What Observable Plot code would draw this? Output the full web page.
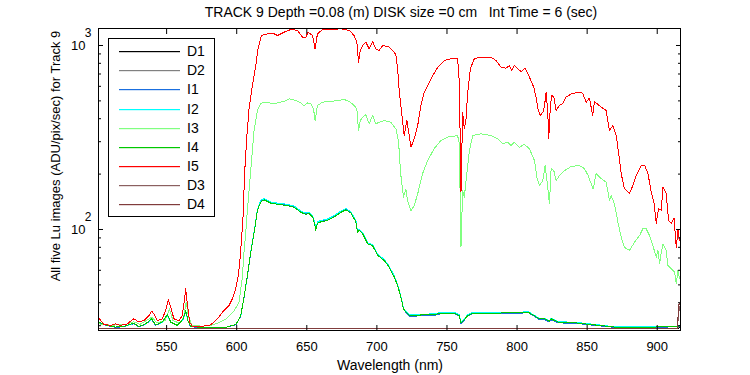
<!DOCTYPE html>
<html><head><meta charset="utf-8">
<script src="https://cdn.jsdelivr.net/npm/d3@7"></script>
<script src="https://cdn.jsdelivr.net/npm/@observablehq/plot@0.6"></script>
<style>
body{margin:0;background:#fff;}
#chart{width:750px;height:375px;}
svg{font-family:Arial,"Liberation Sans",sans-serif;}
</style></head><body><div id="chart"></div>
<script>
const titleText = "TRACK 9 Depth =0.08 (m) DISK size =0 cm   Int Time = 6 (sec)";
const xLabel = "Wavelength (nm)";
const yLabel = "All five Lu images (ADU/pix/sec) for Track 9";
const seriesNames = ["D1","D2","I1","I2","I3","I4","I5","D3","D4"];
const seriesColors = ["#000000","#808080","#1a6fdf","#00ffff","#80ff80","#00c800","#ff0000","#8b6060","#803c3c"];
const xTicks = [550,600,650,700,750,800,850,900];
const yMajor = [100,1000];
const yExp = ["2","3"];
const yMinor = [30,40,50,60,70,80,90,200,300,400,500,600,700,800,900];

const wlDark = [501,530,560,590,620,650,680,710,740,770,800,830,860,890,910,914.5,915.2,916];
const D1 = [28.9,28.8,28.9,28.8,28.9,28.8,28.9,28.8,28.9,28.8,28.9,28.8,28.9,28.8,28.9,28.9,29.2,29.5];
const D2 = [29.0,28.9,29.0,28.9,29.0,28.9,29.0,28.9,29.0,28.9,29.0,28.9,29.0,28.9,29.0,29.0,29.5,30];
const D3 = [29.0,29.0,28.9,29.0,29.0,28.9,29.0,29.0,28.9,29.0,29.0,28.9,29.0,29.0,28.9,29.0,35,38];
const D4 = [29.1,29.0,29.1,29.0,29.1,29.0,29.1,29.0,29.1,29.0,29.1,29.0,29.1,29.0,29.1,29.1,39,39.5];

const wlG = [501.6,507.6,513.6,519.5,526.6,530.2,535,539.3,542.1,546.9,550.5,552.9,557.6,561.9,563.6,565.2,567.1,579,590.9,599.5,602.9,605.2,607.6,610,612.4,614.8,617.1,619.5,624.3,629.1,636.2,641,645.7,649.3,651.6,654.1,655.7,656.4,657.6,660,664.8,669.5,674.3,677.9,681.4,685,686.2,687.4,689.8,693.4,696.9,700.5,705.2,708.8,712.4,714.8,717.1,719,720.7,723.1,731.4,740.9,745.7,755.2,758.8,760,761.9,764.8,768.4,779,793.4,802.9,807.6,810,815.9,819.5,823.1,824.3,829.1,843.4,855.2,869.5,881.4,898.1,914.8,916];
const I4 = [31.4,30.1,29.5,29.7,31,29.7,30.7,32.7,30.3,31.4,34.5,31.4,30.1,32.7,36.3,32,29.7,29.2,29.2,30.5,34,43,56,75,96,127,141,145,139,137,135,132,124,121,122,117,107,98.8,108,110,112,117,124,128,123,110,96.7,98.8,94.8,83.6,81.9,72.3,67.9,62.4,55.1,49.6,42.8,37,35.6,34.1,34.3,34.5,35.1,35.1,34.1,31,32,34.1,35.1,35.1,35.2,35.2,35.6,34.8,32.7,32.7,31.8,32.7,31.4,31,30.3,29.5,29.5,29.5,29.7,30];
const I1 = [31.2,30,29.4,29.6,30.8,29.6,30.5,32.4,30.2,31.2,34.2,31.2,30,32.4,35.9,31.8,29.6,29.2,29.2,30.4,33.8,42.6,55.5,74.5,96.5,128,143,146,140,138,136,133,125,122,123,118,108,99.5,109,111,113,118,125,129,124,111,97.5,99.5,95.5,84.2,82.5,72.8,68.4,62.8,55.5,50,43.1,37.2,35.4,33.8,33.9,34.1,34.8,34.9,33.8,30.8,31.8,33.9,34.9,34.9,35.1,35.1,35.4,34.6,32.4,32.3,31.5,32.3,31.1,30.8,30.1,29.4,29.4,29.4,29.6,29.9];
const I2 = [31.3,30.1,29.5,29.7,30.9,29.7,30.6,32.5,30.3,31.3,34.3,31.3,30.1,32.5,36,31.9,29.7,29.2,29.2,30.5,33.9,42.8,55.8,75.2,97,129,144,147,141,139,137,134,126,123,124,119,109,100,110,112,114,119,126,130,125,112,98,100,96,84.6,83,73.2,68.8,63.2,55.9,50.3,43.4,37.4,35.8,34.4,34.6,34.8,35.4,35.4,34.4,31.2,32.2,34.4,35.4,35.4,35.5,35.5,35.9,35,32.9,32.8,32,32.9,31.6,31.2,30.5,29.6,29.6,29.6,29.8,30.1];

const I3 = [[501.6,30.7],[510,30.2],[520,30.4],[526.6,31.5],[531,30.5],[539.5,33.4],[543,31],[549,32],[552,37],[554.5,32],[559,31],[562,33],[564,40.3],[565.5,34],[568,30.2],[575,29.8],[583,30.3],[588.6,31.5],[592,32.5],[598,36],[601.6,40],[603,48],[604,55],[605.2,75],[606.4,95],[607.4,122],[608.8,163],[610,209],[611.2,269],[612.4,345],[614.8,443],[617.1,486],[621.9,492],[625.5,482],[629.1,488],[633.8,497],[637.4,513],[642.1,502],[645.7,488],[648.1,468],[650.5,488],[652.9,482],[654.8,453],[655.9,391],[657.6,472],[661.2,492],[667.1,497],[671.9,502],[676.6,509],[680.2,497],[683.8,472],[685.7,453],[686.9,345],[688.1,391],[689.8,408],[692.1,420],[694.5,375],[696.9,417],[699.3,375],[701.6,383],[705.2,391],[710,383],[713.6,352],[715.5,298],[716.9,203],[719,150],[720.7,166],[721.9,144],[724.3,126],[726.6,135],[729.1,156],[732.6,201],[736.2,237],[740.9,275],[745.7,305],[750.5,318],[757.6,324],[758.8,292],[760,80],[761.2,163],[762.4,150],[763.6,185],[766,269],[768.4,324],[774.3,331],[781.4,324],[786.2,311],[789.8,292],[793.4,298],[795.7,286],[798.1,298],[801.6,280],[805.2,290],[808.8,275],[812.4,237],[814.3,189],[816,173],[818.4,185],[820,223],[821.9,170],[823.1,138],[824.3,214],[826.2,209],[827.9,185],[830.2,196],[833.8,209],[838.6,220],[844.5,223],[848.1,214],[850.5,198],[854.3,166],[856.4,201],[860,189],[863.6,181],[865.9,144],[867.1,153],[869.5,138],[871.9,110],[874.3,90.8],[876.6,80],[880.2,76.9],[883.8,85.3],[887.4,92.7],[889.8,101],[892.1,101],[894.5,92.7],[896.9,81.9],[899.3,70.7],[900.5,76.9],[901.7,65.2],[902.9,75.3],[904.1,83.6],[906.4,76.9],[907.6,63.7],[910,61.1],[912.4,58.6],[913.6,50.7],[914.8,59.8],[916,54]];

const I5 = [[501.6,33.1],[505.2,30.5],[510,30.1],[513.6,30.7],[517.1,30.1],[521.9,30.7],[526.6,32.7],[530.2,31.4],[533.8,32],[537.4,34.1],[539.3,36],[540.9,34.8],[543.4,32],[546.9,32.7],[549.3,36.3],[551.2,41.5],[552.9,37.9],[555.2,32.7],[558.8,32],[561.2,34.1],[562.9,42.8],[563.6,47.6],[564.8,39.4],[566.4,31.4],[568.4,29.7],[574.3,29.7],[581.4,30.3],[586.2,32.7],[590.9,36.3],[594.5,38.6],[596.9,42],[599.3,47.6],[600.9,55.1],[602.1,65.2],[603.4,87.1],[604.8,127],[605.5,196],[606.4,250],[607.1,311],[608.8,453],[611.2,606],[613.6,778],[615.2,960],[617.6,1133],[621.9,1158],[626.6,1158],[629.1,1133],[633.8,1181],[638.6,1222],[643.4,1209],[646.9,1109],[649.3,1109],[650.9,1181],[654.1,1133],[655.9,960],[657.6,1158],[661.2,1222],[667.1,1222],[674.3,1232],[680.2,1209],[683.8,1133],[685.7,1042],[686.9,811],[688.1,940],[689.8,1000],[692.1,1042],[694.5,960],[696.9,1051],[699.3,960],[701.6,940],[704.1,1000],[708.8,980],[710,960],[712.4,921],[713.6,883],[714.8,750],[716,560],[717.1,472],[718.4,383],[719.5,324],[721.4,391],[723.1,324],[724.3,280],[726.6,311],[729.1,367],[731.4,472],[733.8,557],[738.6,659],[743.4,762],[748.1,828],[752.9,847],[757.6,847],[758.8,631],[760,160],[761.2,434],[762.4,352],[763.6,400],[764.8,557],[766.7,747],[769.5,847],[774.3,865],[781.4,865],[785,828],[788.6,762],[792.1,753],[794.5,778],[796.2,731],[798.1,778],[800.5,747],[802.9,722],[805.7,753],[808.8,673],[811.9,593],[813.6,524],[814.8,453],[816.6,417],[818.4,434],[819.5,463],[820.7,557],[821.9,434],[822.6,311],[823.8,472],[824.8,535],[826.2,524],[827.9,443],[830.2,472],[832.6,482],[835,524],[838.6,546],[843.4,557],[845.7,557],[846.9,546],[849.3,492],[851.6,517],[854,417],[855.2,495],[860,463],[863.6,443],[865.9,345],[868.4,367],[870.7,324],[871.9,280],[874.3,201],[876.6,167],[880.2,157],[882.6,173],[885,196],[888.6,223],[891,223],[893.4,201],[895.7,160],[897.6,141],[899.3,108],[900.9,130],[902.9,127],[904.1,170],[906.4,157],[908.1,112],[910,108],[912,115],[913.6,80],[914.8,99],[916,87]];

const rows = [];
function addParallel(name, wl, vals){ const n=Math.min(wl.length, vals.length); for(let i=0;i<n;i++) rows.push({series:name, wl:wl[i], v:vals[i]}); }
function addPairs(name, pairs){ pairs.forEach(p=>rows.push({series:name, wl:p[0], v:p[1]})); }
addParallel("D1", wlDark, D1);
addParallel("D2", wlDark, D2);
addParallel("I1", wlG, I1);
addParallel("I2", wlG, I2);
addPairs("I3", I3);
addParallel("I4", wlG, I4);
addPairs("I5", I5);
addParallel("D3", wlDark, D3);
addParallel("D4", wlDark, D4);

const plot = Plot.plot({
  width: 750, height: 375,
  marginLeft: 98, marginRight: 70, marginTop: 28, marginBottom: 45,
  style: {fontFamily: "Arial, 'Liberation Sans', sans-serif", fontSize: "13px", color: "black", background: "white"},
  x: {domain: [501.4, 916.6]},
  y: {type: "log", domain: [28.25, 1237]},
  color: {domain: seriesNames, range: seriesColors.slice()},
  marks: [
    Plot.line(rows, {x: "wl", y: "v", z: "series", stroke: "series", strokeWidth: 1, clip: true, shapeRendering: "crispEdges"}),
    Plot.frame({stroke: "black", shapeRendering: "crispEdges"}),
    Plot.axisX(xTicks, {anchor: "bottom", tickSize: -5, fill: "none", stroke: "black"}),
    Plot.axisX(xTicks, {anchor: "top", tickSize: -5, fill: "none", stroke: "black"}),
    Plot.axisX(xTicks, {anchor: "bottom", tickSize: 0, tickPadding: 11, label: null, fill: "black", fontSize: 13, tickFormat: d => String(d)}),
    Plot.axisY(yMajor, {anchor: "left", tickSize: -5, fill: "none", stroke: "black"}),
    Plot.axisY(yMajor, {anchor: "right", tickSize: -5, fill: "none", stroke: "black"}),
    Plot.axisY(yMinor, {anchor: "left", tickSize: -3, fill: "none", stroke: "black"}),
    Plot.axisY(yMinor, {anchor: "right", tickSize: -3, fill: "none", stroke: "black"}),
    Plot.text(yMajor, {y: d => d, text: () => "10", frameAnchor: "left", textAnchor: "end", dx: -13, fontSize: 13, fill: "black"}),
    Plot.text(yMajor, {y: d => d, text: (d, i) => yExp[i], frameAnchor: "left", textAnchor: "end", dx: -7, dy: -12, fontSize: 12, fill: "black"})
  ]
});
document.getElementById("chart").appendChild(plot);

const svg = d3.select(plot);
svg.append("text").attr("x", 401).attr("y", 17).attr("text-anchor", "middle")
  .attr("font-size", 14).attr("fill", "black").style("white-space", "pre").text(titleText);
svg.append("text").attr("x", 390).attr("y", 370).attr("text-anchor", "middle")
  .attr("font-size", 14).attr("fill", "black").text(xLabel);
svg.append("text").attr("transform", "translate(59.5,156) rotate(-90)").attr("text-anchor", "middle")
  .attr("font-size", 13).attr("fill", "black").text(yLabel);

const lg = svg.append("g");
lg.append("rect").attr("x", 108.5).attr("y", 38.5).attr("width", 106).attr("height", 178)
  .attr("fill", "white").attr("stroke", "black").attr("shape-rendering", "crispEdges");
seriesNames.forEach((name, i) => {
  const yy = Math.round(51 + i * 19.17);
  lg.append("rect").attr("x", 119).attr("y", yy).attr("width", 61).attr("height", 1.2)
    .style("fill", seriesColors[i]).style("stroke", "none");
  lg.append("text").attr("x", 187).attr("y", yy + 4.7).attr("text-anchor", "start")
    .attr("font-size", 14).attr("fill", "black").text(name);
});
</script></body></html>
